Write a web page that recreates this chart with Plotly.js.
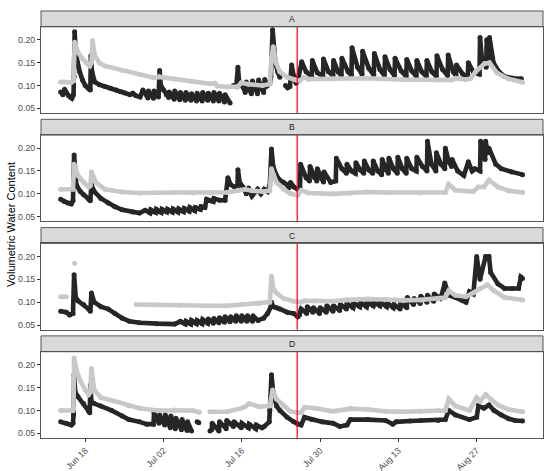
<!DOCTYPE html>
<html><head><meta charset="utf-8">
<script src="https://cdn.plot.ly/plotly-3.0.1.min.js"></script>
<style>html,body{margin:0;padding:0;background:#fff}#chart{width:550px;height:471px}</style>
</head><body><div id="chart"></div>
<script>
// ---- data (day numbers: 1 = Jun 1) ----
const panels = ["A","B","C","D"];
const tickDays = [18,32,46,60,74,88];
const tickLabels = ["Jun 18","Jul 02","Jul 16","Jul 30","Aug 13","Aug 27"];
const yTicks = [0.05,0.10,0.15,0.20];
const yTickLabels = ["0.05","0.10","0.15","0.20"];
const treatmentDay = 55.9;

const aGreyDay = [13.6,15.5,15.9,16.1,16.6,17.4,18.3,18.8,19.1,19.3,19.7,20.5,21.5,24.6,27.7,30.2,31.2,34.0,37.1,40.3,41.2,41.6,43.4,45.3,45.9,47.2,49.7,51.0,51.3,51.6,52.1,52.8,54.1,55.7,56.3,57.1,57.9,62.3,68.5,74.8,81.1,83.6,84.2,86.0,86.9,87.8,89.4,90.3,91.6,93.6,96.2];
const aGreyVwc = [.108,.107,.110,.195,.175,.160,.148,.143,.150,.198,.165,.150,.143,.133,.124,.117,.119,.114,.109,.104,.105,.099,.097,.098,.106,.103,.100,.103,.160,.185,.150,.130,.118,.112,.110,.118,.114,.115,.116,.113,.112,.112,.116,.113,.115,.130,.148,.150,.128,.115,.107];
const aBlackDay = [13.6,14.0,14.3,14.6,15.0,15.3,15.6,15.9,16.0,16.1,16.3,16.6,17.0,17.5,18.0,18.6,18.9,19.0,19.2,19.7,20.5,21.5,22.5,23.5,24.3,25.0,26.0,26.5,27.0,27.8,28.3,29.2,29.3,30.2,30.3,31.1,31.3,31.5,32.0,32.5,32.9,33.0,33.9,34.0,34.9,35.0,35.9,36.0,36.9,37.0,37.9,38.0,38.9,39.0,39.9,40.0,40.9,41.0,41.9,42.0,42.9,43.0,43.9,44.2,44.5,45.0,45.3,45.5,45.9,46.3,46.6,46.8,47.4,47.7,47.9,48.5,48.8,49.0,49.6,49.9,50.1,50.6,51.0,51.2,51.5,51.7,52.0,52.4,52.8,53.2,53.8,54.2,54.6,54.9,55.3,55.7,56.0,56.7,57.5,58.5,58.6,59.5,60.5,60.6,61.5,62.3,62.4,63.2,63.8,63.9,65.0,65.6,65.7,66.7,67.5,67.6,68.7,69.6,69.7,70.7,71.5,71.6,72.5,73.3,73.4,74.5,75.4,75.5,76.4,77.2,77.3,78.2,79.0,79.1,80.0,80.8,80.9,81.9,82.8,82.9,83.8,84.3,84.4,85.5,86.4,86.5,87.5,88.5,88.6,89.0,89.7,89.8,90.2,90.3,91.0,92.0,93.0,94.5,96.0];
const aBlackVwc = [.086,.080,.092,.084,.078,.075,.072,.080,.120,.218,.170,.150,.130,.112,.100,.093,.090,.165,.130,.108,.102,.098,.094,.090,.087,.084,.080,.083,.078,.075,.090,.073,.088,.072,.088,.075,.133,.100,.090,.080,.074,.086,.070,.088,.069,.085,.068,.085,.068,.082,.066,.083,.066,.085,.068,.083,.066,.085,.066,.083,.064,.080,.062,null,.100,.098,.140,.110,.100,.095,.085,.108,.090,.082,.110,.090,.082,.112,.092,.085,.113,.100,.105,.120,.222,.180,.150,.130,.118,null,.100,.095,.098,.145,.120,.105,.110,.152,.130,.120,.155,.128,.120,.158,.130,.122,.155,.130,.122,.160,.130,.122,.183,.140,.125,.175,.138,.123,.170,.135,.122,.163,.135,.122,.160,.132,.120,.157,.132,.120,.155,.130,.120,.155,.130,.120,.165,.135,.122,.167,.130,.122,.145,.125,.118,.150,.128,.125,.205,.150,.140,.200,.150,.205,.150,.130,.120,.116,.115];

const bGreyDay = [13.6,15.8,16.0,16.7,17.7,18.6,18.9,19.1,19.9,21.5,24.6,27.7,34.0,37.2,40.3,43.4,45.3,46.6,47.8,49.7,51.0,51.3,52.2,53.5,54.7,56.0,56.6,57.9,62.3,65.4,68.5,71.7,78.0,82.4,83.0,84.2,87.4,88.3,89.3,90.2,91.8,93.7,96.2];
const bGreyVwc = [.110,.110,.165,.140,.125,.115,.118,.148,.125,.110,.104,.102,.103,.102,.103,.103,.108,.110,.107,.105,.107,.155,.125,.110,.100,.097,.108,.102,.100,.102,.104,.103,.102,.103,.121,.108,.105,.115,.115,.130,.115,.107,.103];
const bBlackDay = [13.6,14.2,14.9,15.5,15.8,16.0,16.2,16.4,17.1,17.7,18.6,18.9,19.1,19.6,20.8,22.1,23.3,24.6,26.5,27.7,28.7,29.6,29.7,30.6,30.7,31.6,31.7,32.6,32.7,33.6,33.7,34.6,34.7,35.6,35.7,36.6,36.7,37.6,37.7,38.6,38.7,39.4,39.7,40.3,40.9,41.0,42.0,43.0,43.5,44.0,44.7,45.2,45.3,45.6,46.2,46.8,47.2,47.8,48.8,49.4,50.0,50.6,51.0,51.3,51.6,52.2,52.8,53.5,54.1,54.4,54.7,55.3,56.0,56.4,56.5,57.5,58.1,58.2,59.0,59.4,59.5,60.3,60.6,60.7,61.9,62.8,62.9,63.9,64.7,64.8,65.6,66.3,66.4,67.2,67.8,67.9,68.7,69.4,69.5,70.3,71.0,71.1,71.8,72.2,72.3,73.1,73.8,73.9,74.7,75.4,75.5,76.4,77.2,77.3,78.3,79.1,79.2,79.9,80.7,80.8,81.6,82.3,82.4,83.0,83.5,83.6,84.6,85.7,86.5,87.2,87.7,88.6,88.7,89.1,89.5,89.6,90.0,90.2,91.4,92.4,94.3,96.2];
const bBlackVwc = [.088,.083,.080,.078,.085,.185,.140,.120,.105,.098,.088,.085,.120,.105,.090,.080,.072,.065,.060,.058,.064,.058,.065,.059,.066,.059,.066,.060,.066,.060,.067,.060,.067,.061,.068,.062,.070,.063,.070,.066,.072,.070,.088,.085,.083,.090,.086,.086,.135,.120,.115,.112,.153,.125,.115,.100,.113,.095,.110,.100,.110,.105,.120,.198,.160,.140,.130,.125,.120,.113,.125,.115,.110,.112,.165,.135,.128,.160,.135,.128,.155,.132,.126,.148,.125,.128,.178,.155,.145,.165,.150,.145,.168,.152,.145,.172,.152,.145,.172,.150,.142,.175,.152,.145,.178,.155,.145,.180,.155,.145,.178,.155,.150,.180,.160,.150,.215,.165,.150,.190,.165,.155,.200,.170,.160,.175,.150,.140,.170,.150,.155,.150,.215,.180,.175,.215,.190,.200,.165,.155,.148,.142];

const cGreyDay = [13.6,14.6,15.0,16.1,16.3,27.1,30.0,35.0,40.0,43.4,46.0,49.0,51.0,51.3,51.6,52.2,53.5,55.3,56.6,57.2,59.1,62.3,64.8,68.5,71.7,74.8,78.0,81.1,82.4,83.0,84.2,86.1,87.4,88.6,89.9,91.1,93.0,96.2];
const cGreyVwc = [.112,.112,null,.185,null,.095,.094,.093,.092,.092,.095,.097,.100,.157,.130,.120,.108,.102,.100,.103,.103,.102,.105,.107,.106,.104,.105,.107,.110,.125,.115,.112,.120,.130,.138,.125,.110,.105];
const cBlackDay = [13.6,14.6,15.2,15.8,16.0,16.3,16.7,17.7,18.6,18.9,19.1,19.6,20.8,22.1,23.3,24.6,25.9,27.7,30.9,34.0,35.0,35.9,36.0,36.9,37.0,37.9,38.0,38.9,39.0,39.9,40.0,40.9,41.0,41.9,42.0,42.9,43.0,43.9,44.0,44.9,45.0,45.9,46.0,46.9,47.0,47.9,48.0,48.9,49.9,50.6,51.2,51.3,51.6,52.2,52.8,54.1,55.3,56.0,56.3,56.6,57.6,57.7,58.7,58.8,59.9,60.0,61.1,61.2,62.3,62.4,63.5,63.6,64.7,64.8,65.9,66.0,67.1,67.2,68.3,68.4,69.5,69.6,70.7,70.8,71.9,72.0,73.1,73.2,74.3,74.4,75.5,75.6,76.7,76.8,77.9,78.0,79.1,79.2,80.3,80.4,81.5,81.6,82.3,83.0,84.2,85.5,86.1,86.7,87.4,88.0,88.6,89.6,90.2,90.5,91.8,93.0,94.3,95.5,95.9,96.2];
const cBlackVwc = [.080,.078,.072,.075,.160,.110,.103,.095,.085,.080,.120,.100,.090,.085,.075,.065,.058,.055,.053,.052,.058,.052,.058,.052,.060,.053,.060,.053,.062,.054,.063,.054,.064,.055,.066,.056,.068,.057,.068,.058,.070,.058,.070,.058,.070,.058,.070,.060,.065,.075,.090,.100,.090,.088,.085,.078,.075,.068,.072,.085,.075,.090,.078,.088,.075,.088,.078,.092,.080,.092,.082,.095,.085,.097,.088,.098,.090,.100,.090,.100,.092,.100,.092,.100,.090,.098,.088,.095,.085,.098,.088,.110,.095,.108,.097,.113,.100,.115,.102,.118,.108,.110,.142,.115,.110,.103,.100,.123,.118,.200,.150,.200,.200,.165,.140,.130,.130,.130,.155,.152];

const dGreyDay = [13.6,15.8,15.9,16.0,16.4,17.1,18.0,18.6,18.9,19.1,19.6,20.8,23.3,25.8,27.7,30.9,34.0,37.2,38.4,39.3,40.3,43.4,45.9,46.6,47.3,49.1,51.0,51.5,52.2,53.5,54.7,56.0,56.6,57.2,59.1,62.3,65.4,68.5,71.7,74.8,78.0,81.1,82.4,83.0,84.2,86.7,88.0,88.6,89.6,90.5,91.8,93.7,96.2];
const dGreyVwc = [.100,.100,.105,.215,.190,.165,.145,.135,.140,.192,.145,.128,.120,.110,.105,.100,.101,.100,.096,null,.097,.097,.105,.108,.115,.108,.110,.145,.125,.110,.098,.095,.095,.107,.105,.098,.104,.102,.098,.097,.098,.100,.100,.125,.110,.100,.128,.120,.135,.125,.112,.102,.097];
const dBlackDay = [13.6,14.6,15.5,15.8,15.9,16.0,16.2,16.7,17.7,18.6,18.8,18.9,19.1,19.6,20.8,22.7,24.6,25.8,27.7,29.0,30.2,30.3,31.2,31.3,32.2,32.3,33.2,33.3,34.1,34.2,35.2,35.3,36.2,36.3,37.0,37.5,38.0,38.3,38.7,40.3,40.6,40.7,41.9,42.0,43.2,43.3,44.5,44.6,45.9,46.0,47.2,47.3,48.5,48.6,49.6,50.0,50.9,51.0,51.3,51.6,52.2,52.8,54.1,55.3,56.0,56.6,57.2,58.5,60.4,62.3,63.5,64.8,65.4,68.5,71.7,73.0,73.6,76.1,78.0,81.1,82.4,83.0,84.2,86.7,88.0,88.3,89.3,90.2,91.1,92.4,93.7,94.9,96.2];
const dBlackVwc = [.075,.072,.068,.072,.090,.178,.140,.130,.115,.098,.095,.155,.120,.115,.110,.100,.088,.080,.075,.070,.070,.095,.072,.090,.068,.090,.062,.088,.060,.083,.058,.080,.056,.075,.055,null,.075,.073,null,.055,.058,.072,.055,.075,.060,.078,.065,.075,.062,.072,.062,.070,.060,.068,.062,.065,.075,.100,.178,.140,.110,.100,.085,.075,.070,.068,.085,.080,.075,.072,.065,.068,.080,.080,.078,.070,.075,.077,.078,.078,.080,.100,.090,.080,.085,.110,.105,.112,.100,.090,.082,.078,.077];

// ---- rendering ----
function toDate(d){ return new Date(Date.UTC(2018,4,31) + d*86400000).toISOString().replace('T',' ').slice(0,19); }

const series = [
  [aBlackDay,aBlackVwc,aGreyDay,aGreyVwc],
  [bBlackDay,bBlackVwc,bGreyDay,bGreyVwc],
  [cBlackDay,cBlackVwc,cGreyDay,cGreyVwc],
  [dBlackDay,dBlackVwc,dGreyDay,dGreyVwc]
];
const plotDomains = [[0.7609,0.9630],[0.5073,0.7094],[0.2536,0.4557],[0,0.2021]];
const stripDomains = [[0.9630,1.0],[0.7094,0.7464],[0.4557,0.4927],[0.2021,0.2391]];
const BLACK = '#262626', GREY = '#c8c8c8', LW = 4.6;

const traces = [];
const layout = {
  width:550, height:471, paper_bgcolor:'#fff', plot_bgcolor:'#fff',
  margin:{l:40.7, r:7, t:11, b:33, pad:0},
  showlegend:false, font:{family:'Liberation Sans, Arial, sans-serif', color:'#4d4d4d'},
  shapes:[], annotations:[]
};
panels.forEach((p,i)=>{
  const n = i+1, xs = n===1?'':String(n);
  const [bx,by,gx,gy] = series[i];
  traces.push({x:bx.map(toDate), y:by, xaxis:'x'+xs, yaxis:'y'+xs, type:'scatter', mode:'lines+markers',
    line:{color:BLACK,width:LW}, marker:{color:BLACK,size:LW+0.4}, hoverinfo:'skip'});
  traces.push({x:gx.map(toDate), y:gy, xaxis:'x'+xs, yaxis:'y'+xs, type:'scatter', mode:'lines+markers',
    line:{color:GREY,width:LW}, marker:{color:GREY,size:LW+0.4}, hoverinfo:'skip'});
  const bottom = n===4;
  layout['xaxis'+xs] = {domain:[0,1], anchor:'y'+xs, type:'date', range:[toDate(10.08),toDate(99.86)],
    showgrid:false, zeroline:false, showline:true, mirror:true, linecolor:'#555', linewidth:1,
    ticks: bottom?'outside':'', ticklen:3, tickcolor:'#333', showticklabels:bottom,
    tickvals:tickDays.map(toDate), ticktext:tickLabels, tickangle:-45,
    tickfont:{size:8.8,color:'#4d4d4d'}, automargin:false};
  layout['yaxis'+xs] = {domain:plotDomains[i], anchor:'x'+xs, range:[0.0397,0.2286],
    showgrid:false, zeroline:false, showline:true, mirror:true, linecolor:'#555', linewidth:1,
    ticks:'outside', ticklen:3, tickcolor:'#333', tickvals:yTicks, ticktext:yTickLabels,
    tickfont:{size:8.8,color:'#4d4d4d'}, automargin:false};
  layout.shapes.push({type:'rect', xref:'paper', yref:'paper', x0:0, x1:1, y0:stripDomains[i][0], y1:stripDomains[i][1],
    fillcolor:'#d9d9d9', line:{color:'#555',width:1}, layer:'below'});
  layout.shapes.push({type:'line', xref:'x'+xs, yref:'y'+xs+' domain', x0:toDate(treatmentDay), x1:toDate(treatmentDay), y0:0, y1:1,
    line:{color:'#ff0000',width:1.2}});
  layout.annotations.push({xref:'paper', yref:'paper', x:0.5, y:(stripDomains[i][0]+stripDomains[i][1])/2,
    text:p, showarrow:false, font:{size:8.5,color:'#1a1a1a'}, xanchor:'center', yanchor:'middle'});
});
layout.annotations.push({xref:'paper', yref:'paper', x:-0.061, y:0.5, text:'Volumetric Water Content',
  textangle:-90, showarrow:false, font:{size:11,color:'#000'}, xanchor:'center', yanchor:'middle'});

Plotly.newPlot('chart', traces, layout, {staticPlot:true, displayModeBar:false});
</script></body></html>
